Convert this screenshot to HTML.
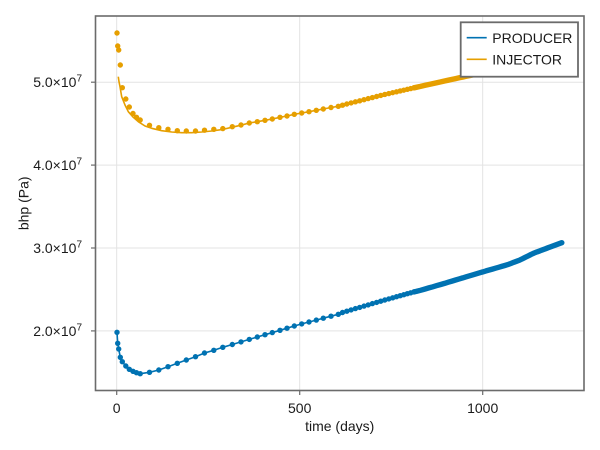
<!DOCTYPE html>
<html>
<head>
<meta charset="utf-8">
<style>
  html,body{margin:0;padding:0;background:#fff;}
  svg{display:block;}
  text{font-family:"Liberation Sans", Arial, sans-serif;fill:#1a1a1a;}
</style>
</head>
<body>
<svg width="600" height="450" viewBox="0 0 600 450" xmlns="http://www.w3.org/2000/svg">
  <rect x="0" y="0" width="600" height="450" fill="#fff"/>
  <!-- grid -->
  <g stroke="#e3e3e3" stroke-width="1" fill="none">
    <line x1="116.7" y1="16" x2="116.7" y2="390.5"/>
    <line x1="299.7" y1="16" x2="299.7" y2="390.5"/>
    <line x1="482.7" y1="16" x2="482.7" y2="390.5"/>
    <line x1="95.5" y1="82.2" x2="584" y2="82.2"/>
    <line x1="95.5" y1="165.1" x2="584" y2="165.1"/>
    <line x1="95.5" y1="248.0" x2="584" y2="248.0"/>
    <line x1="95.5" y1="330.9" x2="584" y2="330.9"/>
  </g>

  <!-- producer line -->
  <polyline fill="none" stroke="#0072B2" stroke-width="1.6" stroke-linejoin="round"
    points="117,332.3 117.7,343.3 118.7,349 120.3,357.3 122.3,361.7 125.8,366 129.3,369.3 133,371.3 136.5,372.7 140.2,373.7 149.5,372.3 158.8,370 168,366.7 177.3,363.3 186.3,360 195.5,356.7 204.5,353 213.8,350.3 222.8,347.3 232.3,344.5 241,341.9 249.3,339.4 257.3,337 265,334.7 272.3,332.6 280,330.3 287,328.2 294.3,326 301.7,323.9 309,322 316.3,320.1 323.3,318.2 331,316.2 338.3,314.3 342.5,312.5 346.8,311.2 351.1,309.9 355.4,308.6 359.7,307.4 364,306.1 368.2,304.9 372.4,303.6 376.6,302.4 380.7,301.2 384.8,300 388.8,298.9 392.7,297.8 396.5,296.7 400.2,295.7 403.8,294.7 407.3,293.7 410.7,292.8 414,291.9"/>
  <!-- producer dots -->
  <path fill="none" stroke="#0072B2" stroke-width="5.4" stroke-linecap="round"
    d="M117 332.3h.01M117.7 343.3h.01M118.7 349h.01M120.3 357.3h.01M122.3 361.7h.01M125.8 366h.01M129.3 369.3h.01M133 371.3h.01M136.5 372.7h.01M140.2 373.7h.01M149.5 372.3h.01M158.8 370h.01M168 366.7h.01M177.3 363.3h.01M186.3 360h.01M195.5 356.7h.01M204.5 353h.01M213.8 350.3h.01M222.8 347.3h.01M232.3 344.5h.01M241 341.9h.01M249.3 339.4h.01M257.3 337h.01M265 334.7h.01M272.3 332.6h.01M280 330.3h.01M287 328.2h.01M294.3 326h.01M301.7 323.9h.01M309 322h.01M316.3 320.1h.01M323.3 318.2h.01M331 316.2h.01M338.3 314.3h.01M342.5 312.5h.01M346.8 311.2h.01M351.1 309.9h.01M355.4 308.6h.01M359.7 307.4h.01M364 306.1h.01M368.2 304.9h.01M372.4 303.6h.01M376.6 302.4h.01M380.7 301.2h.01M384.8 300h.01M388.8 298.9h.01M392.7 297.8h.01M396.5 296.7h.01M400.2 295.7h.01M403.8 294.7h.01M407.3 293.7h.01M410.7 292.8h.01M414 291.9h.01"/>
  <!-- producer dense band -->
  <polyline fill="none" stroke="#0072B2" stroke-width="5.4" stroke-linecap="round" stroke-linejoin="round"
    points="414,291.9 416.3,291.4 420.5,290.3 424.7,289.1 428.8,287.9 432.8,286.8 436.8,285.6 440.7,284.5 444.5,283.4 448.3,282.2 452,281.1 455.6,280 459.2,278.9 462.7,277.9 466.2,276.8 469.6,275.8 473,274.8 476.3,273.8 479.6,272.8 482.8,271.9 486,270.9 489.2,270 492.4,269.1 495.5,268.2 498.6,267.3 501.7,266.4 504.8,265.5 507.8,264.6 510.8,263.5 513.8,262.3 516.8,261.2 519.7,260.1 522.6,258.7 525.5,257.2 528.4,255.8 531.3,254.3 534.2,253 537,251.9 539.8,250.9 542.6,249.8 545.4,248.8 548.2,247.7 551,246.7 553.7,245.7 556.4,244.7 559.1,243.7 561.8,242.7"/>

  <!-- injector line -->
  <polyline fill="none" stroke="#E69F00" stroke-width="1.6" stroke-linejoin="round"
    points="118.3,76.7 119,81.7 120,86.7 121.7,96.7 125,105 128.3,111.7 133.3,117.3 138.3,121.7 145,126 151.7,128.3 161.7,130.7 171.7,132 181.7,132.7 191.7,132.7 201.7,132 211.7,131 222.8,129.4 232.3,127.2 241,125.2 249.3,123 257.3,121.7 265,120.3 272.3,119 280,117.3 287,116 294.3,114.3 301.7,113 309,111.7 316.3,110.3 323.3,109 331,107.5 338.3,106.3 342.5,105.2 346.8,104 351.1,102.9 355.4,101.85 359.7,100.8 364,99.7 368.2,98.6 372.4,97.55 376.6,96.5 380.7,95.45 384.8,94.45 388.8,93.55 392.7,92.65 396.5,91.8 400.2,90.95 403.8,90.15 407.3,89.35 410.7,88.55 414,87.8"/>
  <!-- injector dots -->
  <path fill="none" stroke="#E69F00" stroke-width="5.4" stroke-linecap="round"
    d="M117 33h.01M117.7 46h.01M118.7 50h.01M120.3 65h.01M122.3 87.7h.01M125.8 99h.01M129.3 107h.01M133 113.5h.01M136.5 117.3h.01M140.2 120h.01M149.5 125.3h.01M158.8 127.7h.01M168 129.3h.01M177.3 130.7h.01M186.3 131h.01M195.5 131h.01M204.5 130.2h.01M213.8 129.3h.01M222.8 128.6h.01M232.3 126.7h.01M241 125h.01M249.3 123h.01M257.3 121.7h.01M265 120.3h.01M272.3 119h.01M280 117.3h.01M287 116h.01M294.3 114.3h.01M301.7 113h.01M309 111.7h.01M316.3 110.3h.01M323.3 109h.01M331 107.5h.01M338.3 106.3h.01M342.5 105.2h.01M346.8 104h.01M351.1 102.9h.01M355.4 101.85h.01M359.7 100.8h.01M364 99.7h.01M368.2 98.6h.01M372.4 97.55h.01M376.6 96.5h.01M380.7 95.45h.01M384.8 94.45h.01M388.8 93.55h.01M392.7 92.65h.01M396.5 91.8h.01M400.2 90.95h.01M403.8 90.15h.01M407.3 89.35h.01M410.7 88.55h.01M414 87.8h.01"/>
  <!-- injector dense band -->
  <polyline fill="none" stroke="#E69F00" stroke-width="5.4" stroke-linecap="round" stroke-linejoin="round"
    points="414,87.8 416.3,87.3 420.5,86.4 424.7,85.4 428.8,84.5 432.8,83.6 436.8,82.7 440.7,81.9 444.5,81 448.3,80.2 452,79.4 455.6,78.6 459.2,77.8 462.7,77.1 466.2,76.3 469.6,75.6 473,74.9 476.3,74.1 479.6,73.3 482.8,72.6 486,71.9 489.2,71.1 492.4,70.4 495.5,69.7 498.6,69 501.7,68.3 504.8,67.5 507.8,66.9 510.8,66.2 513.8,65.5 516.8,64.8 519.7,64.1 522.6,63.5 525.5,62.8 528.4,62.1 531.3,61.5 534.2,60.8 537,60.1 539.8,59.5 542.6,58.9 545.4,58.2 548.2,57.6 551,56.9 553.7,56.3 556.4,55.7 559.1,55.1 561.8,54.4"/>

  <!-- spines -->
  <rect x="95.5" y="16" width="488.5" height="374.5" fill="none" stroke="#6b6b6b" stroke-width="1.6"/>
  <!-- ticks -->
  <g stroke="#6b6b6b" stroke-width="1.2">
    <line x1="116.7" y1="390.5" x2="116.7" y2="395"/>
    <line x1="299.7" y1="390.5" x2="299.7" y2="395"/>
    <line x1="482.7" y1="390.5" x2="482.7" y2="395"/>
    <line x1="91" y1="82.2" x2="95.5" y2="82.2"/>
    <line x1="91" y1="165.1" x2="95.5" y2="165.1"/>
    <line x1="91" y1="248.0" x2="95.5" y2="248.0"/>
    <line x1="91" y1="330.9" x2="95.5" y2="330.9"/>
  </g>

  <!-- x tick labels -->
  <g font-size="14" text-anchor="middle">
    <text x="116.7" y="413">0</text>
    <text x="299.7" y="413">500</text>
    <text x="482.7" y="413">1000</text>
  </g>
  <text x="339.7" y="431" font-size="14" text-anchor="middle">time (days)</text>

  <!-- y tick labels -->
  <g font-size="14" text-anchor="end">
    <text x="82" y="87.2">5.0×10<tspan dy="-5.5" font-size="10">7</tspan></text>
    <text x="82" y="170.1">4.0×10<tspan dy="-5.5" font-size="10">7</tspan></text>
    <text x="82" y="253">3.0×10<tspan dy="-5.5" font-size="10">7</tspan></text>
    <text x="82" y="335.9">2.0×10<tspan dy="-5.5" font-size="10">7</tspan></text>
  </g>
  <text transform="translate(28.5,203.3) rotate(-90)" font-size="14" text-anchor="middle">bhp (Pa)</text>

  <!-- legend -->
  <rect x="460.7" y="22.3" width="117.3" height="54.4" fill="#fff" stroke="#6b6b6b" stroke-width="1.8"/>
  <line x1="466.7" y1="37.7" x2="486.7" y2="37.7" stroke="#0072B2" stroke-width="1.6"/>
  <line x1="466.7" y1="59.3" x2="486.7" y2="59.3" stroke="#E69F00" stroke-width="1.6"/>
  <text x="492.3" y="42.8" font-size="14">PRODUCER</text>
  <text x="492.3" y="64.4" font-size="14">INJECTOR</text>
</svg>
</body>
</html>
